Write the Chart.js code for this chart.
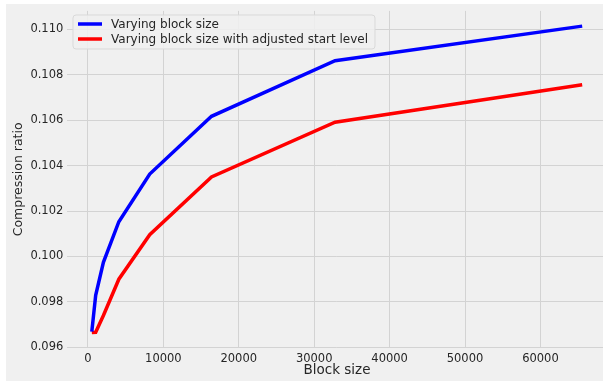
<!DOCTYPE html>
<html>
<head>
<meta charset="utf-8">
<script src="https://cdn.jsdelivr.net/npm/chart.js@4/dist/chart.umd.min.js"></script>
<style>
  html, body { margin: 0; padding: 0; background: #ffffff; overflow: hidden; width: 603px; height: 381px; }
  canvas { display: block; }
</style>
</head>
<body>
<canvas id="c" width="620" height="381"></canvas>
<script>
const blockSizes = [512, 1024, 2048, 4096, 8192, 16384, 32768, 65536];
const varyingBlock = [0.09669, 0.09829, 0.09974, 0.10153, 0.10363, 0.10617, 0.10862, 0.11014];
const adjustedStart = [0.09665, 0.09666, 0.0974, 0.0990, 0.10096, 0.1035, 0.10591, 0.10756];
const seriesLabels = ['Varying block size', 'Varying block size with adjusted start level'];
const xTicks = [0, 10000, 20000, 30000, 40000, 50000, 60000];
const yTicks = [0.096, 0.098, 0.100, 0.102, 0.104, 0.106, 0.108, 0.110];

const FONT = 'DejaVu Sans';
const TEXT = '#262626';
const GRID = '#d3d3d3';

const bgPlugin = {
  id: 'bg',
  beforeDraw(chart) {
    const ctx = chart.ctx;
    ctx.save();
    ctx.fillStyle = '#f0f0f0';
    ctx.fillRect(6, 4, chart.width, chart.height);
    ctx.restore();
  }
};

const legendPlugin = {
  id: 'customLegend',
  afterDatasetsDraw(chart) {
    const ctx = chart.ctx;
    const x0 = 73, y0 = 15, w = 302, h = 34, r = 3;
    ctx.save();
    ctx.beginPath();
    ctx.moveTo(x0 + r, y0);
    ctx.lineTo(x0 + w - r, y0);
    ctx.quadraticCurveTo(x0 + w, y0, x0 + w, y0 + r);
    ctx.lineTo(x0 + w, y0 + h - r);
    ctx.quadraticCurveTo(x0 + w, y0 + h, x0 + w - r, y0 + h);
    ctx.lineTo(x0 + r, y0 + h);
    ctx.quadraticCurveTo(x0, y0 + h, x0, y0 + h - r);
    ctx.lineTo(x0, y0 + r);
    ctx.quadraticCurveTo(x0, y0, x0 + r, y0);
    ctx.closePath();
    ctx.fillStyle = 'rgba(240,240,240,0.85)';
    ctx.fill();
    ctx.strokeStyle = '#d9d9d9';
    ctx.lineWidth = 1;
    ctx.stroke();
    chart.data.datasets.forEach((ds, i) => {
      const y = 24 + i * 15;
      ctx.beginPath();
      ctx.moveTo(78, y);
      ctx.lineTo(102, y);
      ctx.strokeStyle = ds.borderColor;
      ctx.lineWidth = 3.5;
      ctx.stroke();
      ctx.fillStyle = TEXT;
      ctx.font = '12px "' + FONT + '"';
      ctx.textBaseline = 'middle';
      ctx.textAlign = 'left';
      ctx.fillText(ds.label, 111, y + 0.5);
    });
    ctx.restore();
  }
};

new Chart(document.getElementById('c'), {
  type: 'line',
  data: {
    datasets: [
      {
        label: seriesLabels[0],
        data: blockSizes.map((x, i) => ({ x: x, y: varyingBlock[i] })),
        borderColor: '#0000ff',
        borderWidth: 3.5,
        pointRadius: 0,
        tension: 0,
        fill: false
      },
      {
        label: seriesLabels[1],
        data: blockSizes.map((x, i) => ({ x: x, y: adjustedStart[i] })),
        borderColor: '#ff0000',
        borderWidth: 3.5,
        pointRadius: 0,
        tension: 0,
        fill: false
      }
    ]
  },
  options: {
    responsive: false,
    maintainAspectRatio: false,
    animation: false,
    devicePixelRatio: 1,
    layout: { padding: { left: 0, top: 10, right: 13.3, bottom: 0 } },
    plugins: {
      legend: { display: false },
      tooltip: { enabled: false }
    },
    scales: {
      x: {
        type: 'linear',
        min: -2739,
        max: 68787,
        afterBuildTicks(scale) { scale.ticks = xTicks.map(v => ({ value: v })); },
        afterFit(scale) { scale.height = 33.2; },
        border: { display: false },
        grid: { color: GRID, lineWidth: 1, drawTicks: false },
        ticks: {
          padding: 4.5,
          color: TEXT,
          font: { family: FONT, size: 11.5 },
          maxRotation: 0,
          callback: v => String(v)
        },
        title: {
          display: true,
          text: 'Block size',
          color: TEXT,
          font: { family: FONT, size: 13.5 },
          padding: { top: 0, bottom: 2 }
        }
      },
      y: {
        type: 'linear',
        min: 0.09598,
        max: 0.11081,
        afterBuildTicks(scale) { scale.ticks = yTicks.map(v => ({ value: v })); },
        afterFit(scale) { scale.width = 67.3; },
        border: { display: false },
        grid: { color: GRID, lineWidth: 1, drawTicks: false },
        ticks: {
          padding: 4,
          color: TEXT,
          font: { family: FONT, size: 11.5 },
          callback: v => v.toFixed(3)
        },
        title: {
          display: true,
          text: 'Compression ratio',
          color: TEXT,
          font: { family: FONT, size: 12.5 },
          padding: { top: 11, bottom: 0 }
        }
      }
    }
  },
  plugins: [bgPlugin, legendPlugin]
});
</script>
</body>
</html>
